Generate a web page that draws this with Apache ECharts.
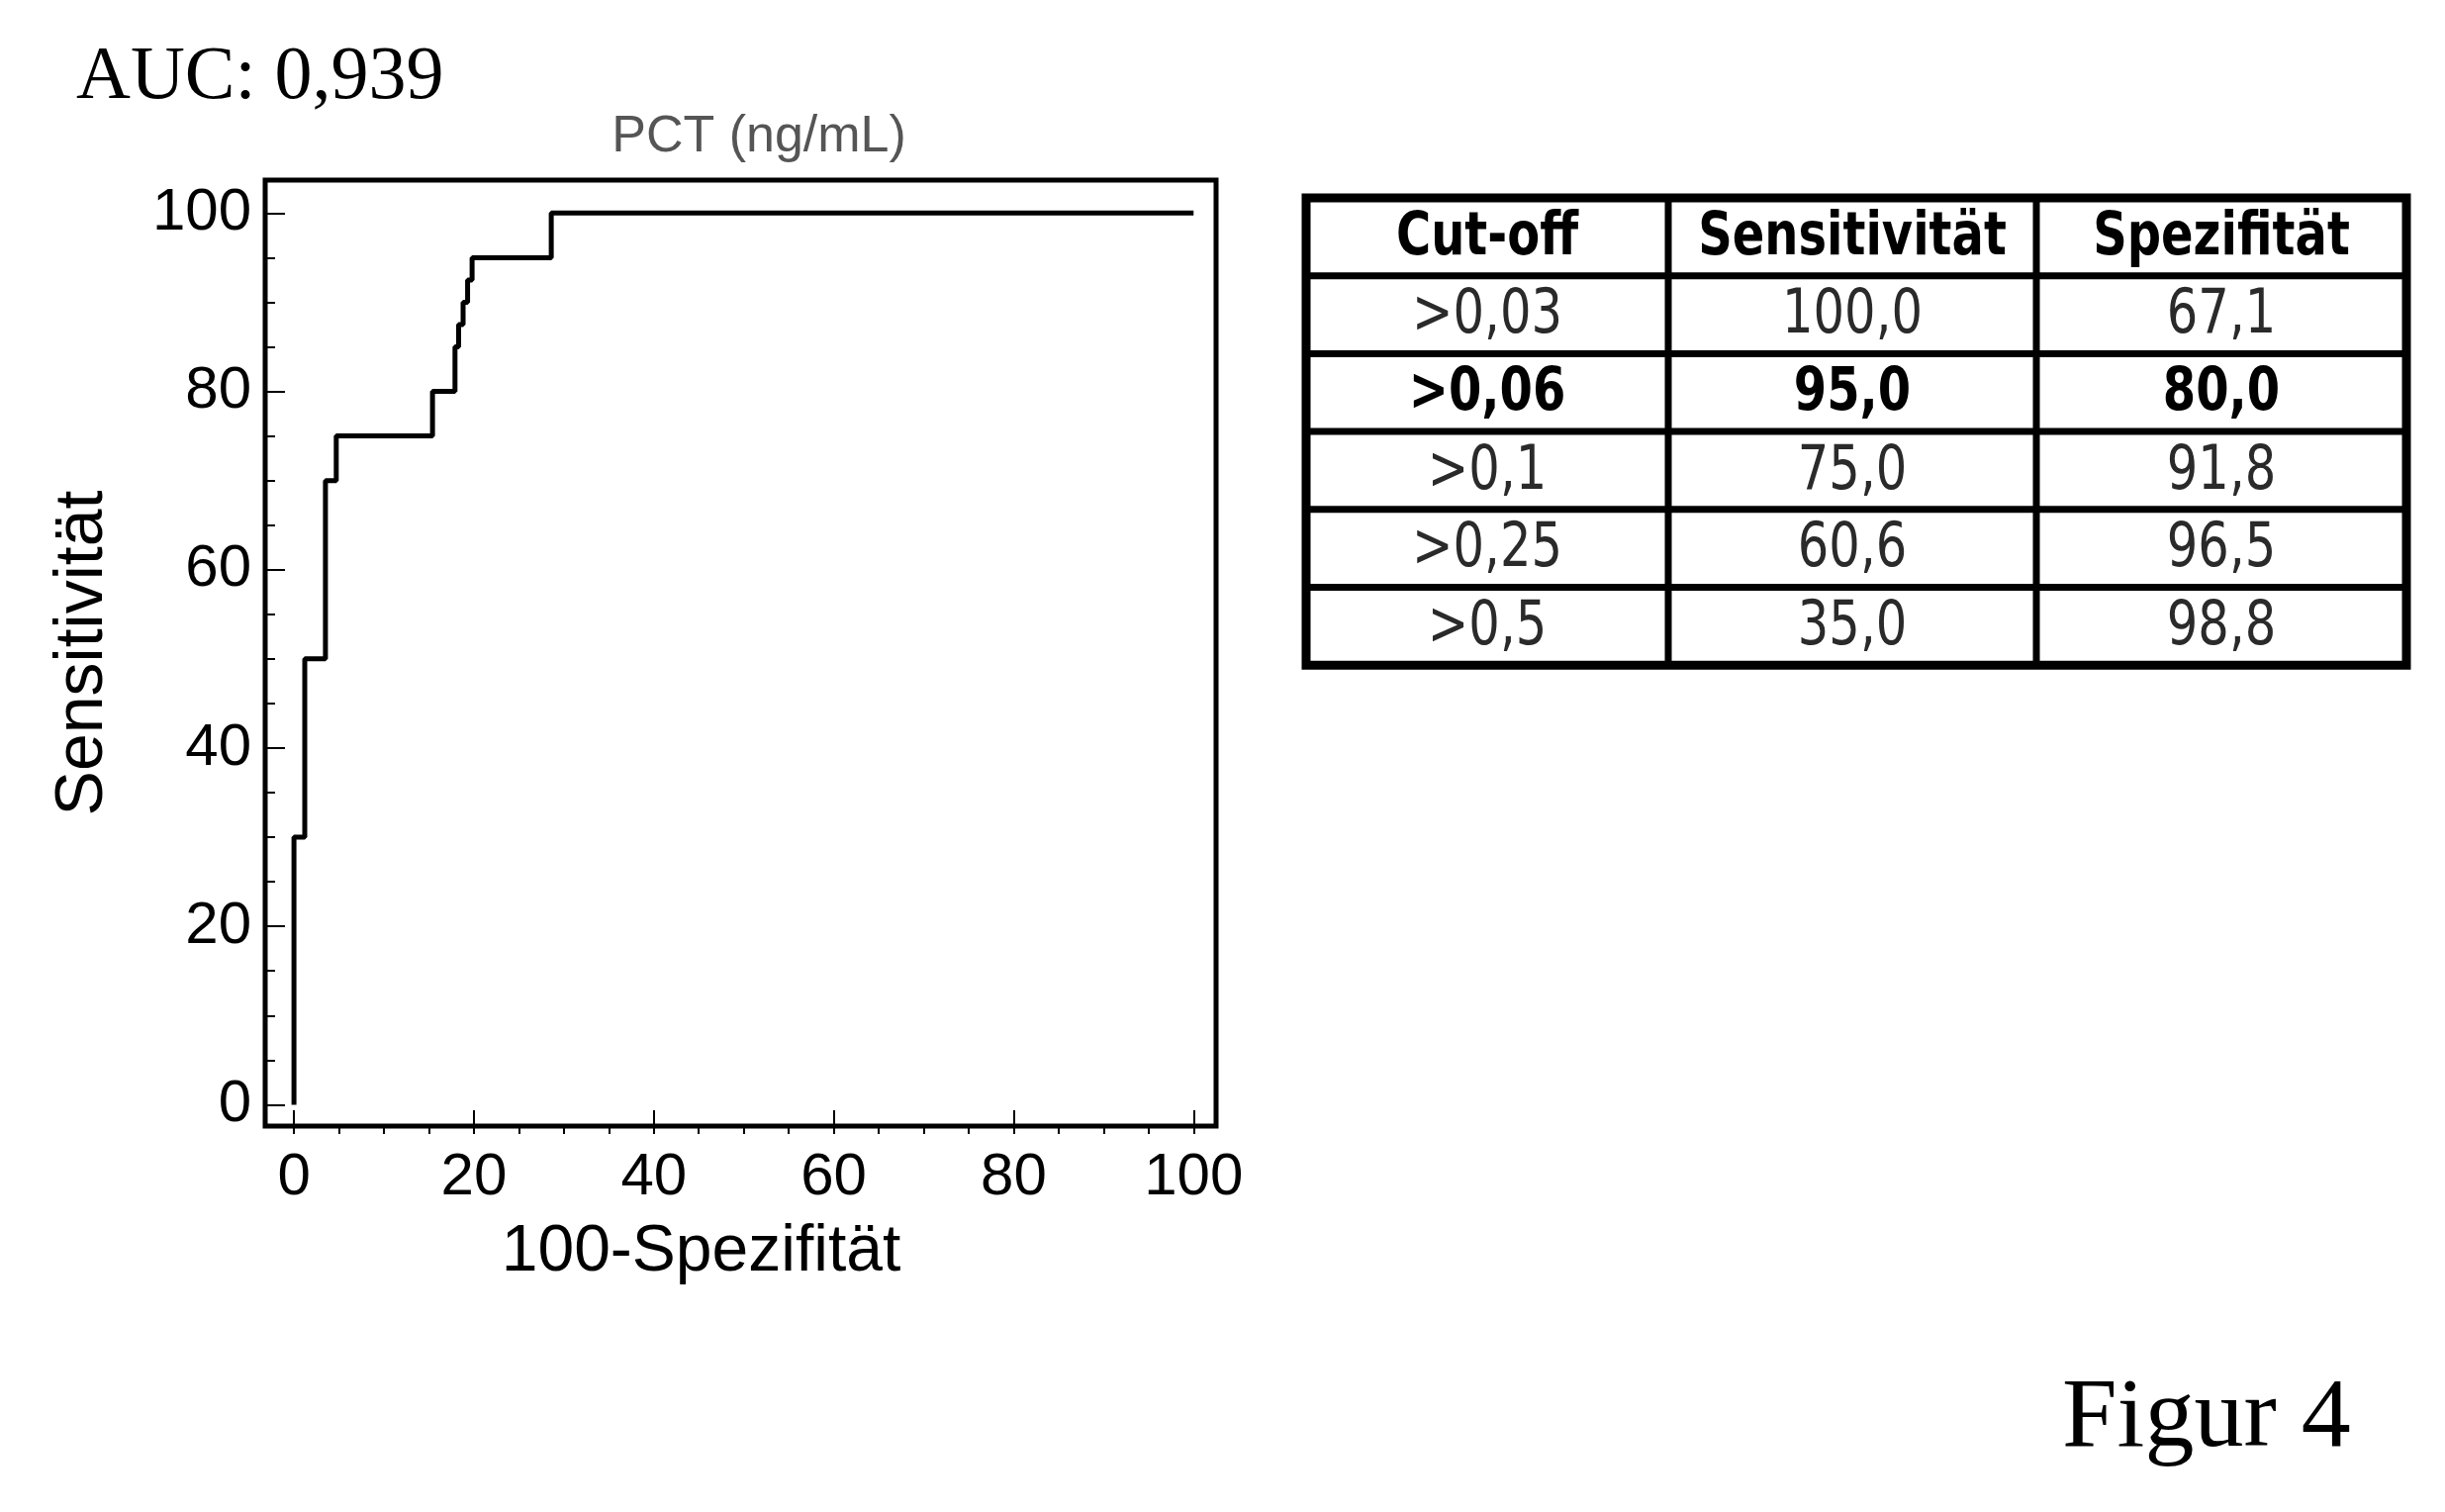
<!DOCTYPE html>
<html>
<head>
<meta charset="utf-8">
<title>ROC PCT</title>
<script src="https://cdn.jsdelivr.net/npm/echarts@6/dist/echarts.min.js"></script>
<style>body{margin:0;background:#fff}</style>
</head>
<body>
<div id="main" style="width:2471px;height:1528px;"></div>
<script type="text/javascript">
    // ROC-Kurve, Eckpunkte der Treppe: x = 100-Spezifitaet, y = Sensitivitaet
    var rocX = [0, 0, 1.2, 1.2, 3.5, 3.5, 4.7, 4.7, 15.4, 15.4, 17.9, 17.9, 18.3, 18.3, 18.8, 18.8, 19.3, 19.3, 19.8, 19.8, 28.6, 28.6, 100];
    var rocY = [0, 30, 30, 50, 50, 70, 70, 75, 75, 80, 80, 85, 85, 87.5, 87.5, 90, 90, 92.5, 92.5, 95, 95, 100, 100];

    var tickLabels = [0, 20, 40, 60, 80, 100];
    var minorTicks = [0, 5, 10, 15, 20, 25, 30, 35, 40, 45, 50, 55, 60, 65, 70, 75, 80, 85, 90, 95, 100];

    // Tabelle
    var tableHeader = ['Cut-off', 'Sensitivität', 'Spezifität'];
    var cutoffs = ['>0,03', '>0,06', '>0,1', '>0,25', '>0,5'];
    var sensitivity = ['100,0', '95,0', '75,0', '60,6', '35,0'];
    var specificity = ['67,1', '80,0', '91,8', '96,5', '98,8'];
    var boldRow = 1;

    var myChart = echarts.init(document.getElementById('main'));

    var rocData = [];
    for (var i = 0; i < rocX.length; i++) {
        rocData.push([rocX[i], rocY[i]]);
    }

    var sans = '"Liberation Sans", Arial, sans-serif';
    var serif = '"Liberation Serif", "Times New Roman", serif';

    // table as graphic elements
    var colEdges = [1320, 1686, 2058, 2432];
    var tTop = 200, rowH = 78.7;
    var nRows = cutoffs.length + 1;
    var tableEls = [];
    tableEls.push({
        type: 'rect',
        shape: { x: colEdges[0], y: tTop, width: colEdges[3] - colEdges[0], height: rowH * nRows },
        style: { fill: '#fff', stroke: '#000', lineWidth: 9 }
    });
    for (var r = 1; r < nRows; r++) {
        tableEls.push({
            type: 'line',
            shape: { x1: colEdges[0], y1: tTop + r * rowH, x2: colEdges[3], y2: tTop + r * rowH },
            style: { stroke: '#000', lineWidth: 7 }
        });
    }
    for (var c = 1; c < 3; c++) {
        tableEls.push({
            type: 'line',
            shape: { x1: colEdges[c], y1: tTop, x2: colEdges[c], y2: tTop + rowH * nRows },
            style: { stroke: '#000', lineWidth: 7 }
        });
    }
    function cellText(txt, col, row, bold) {
        return {
            type: 'text',
            x: (colEdges[col] + colEdges[col + 1]) / 2,
            y: tTop + row * rowH + rowH / 2 + 2,
            scaleX: 0.8,
            style: {
                text: txt,
                x: 0, y: 0,
                align: 'center',
                verticalAlign: 'middle',
                fontFamily: '"DejaVu Sans", Verdana, sans-serif',
                fontSize: bold ? 60 : 62,
                fontWeight: bold ? 'bold' : 'normal',
                fill: bold ? '#000' : '#2a2a2a'
            }
        };
    }
    for (var c2 = 0; c2 < 3; c2++) {
        tableEls.push(cellText(tableHeader[c2], c2, 0, true));
    }
    for (var k = 0; k < cutoffs.length; k++) {
        var b = (k === boldRow);
        tableEls.push(cellText(cutoffs[k], 0, k + 1, b));
        tableEls.push(cellText(sensitivity[k], 1, k + 1, b));
        tableEls.push(cellText(specificity[k], 2, k + 1, b));
    }

    var option = {
        backgroundColor: '#fff',
        animation: false,
        title: [
            { text: 'AUC: 0,939', left: 72, top: 36,
              textStyle: { fontFamily: serif, fontSize: 76, fontWeight: 'normal', color: '#000' } },
            { text: 'PCT (ng/mL)', left: 762, top: 108, textAlign: 'center',
              textStyle: { fontFamily: sans, fontSize: 52, fontWeight: 'normal', color: '#555' } },
            { text: 'Figur 4', left: 2079, top: 1380,
              textStyle: { fontFamily: serif, fontSize: 100, fontWeight: 'normal', color: '#000' } }
        ],
        grid: {
            left: 268, top: 182, width: 961, height: 956,
            show: true, borderColor: '#000', borderWidth: 5,
            backgroundColor: 'transparent'
        },
        xAxis: [{
            type: 'value', min: -3.2, max: 102.5,
            axisLine: { show: false, onZero: false },
            splitLine: { show: false },
            axisTick: { show: true, customValues: minorTicks, length: 8, lineStyle: { color: '#000', width: 2 } },
            axisLabel: { customValues: tickLabels, fontSize: 60, color: '#000', margin: 22, fontFamily: sans },
            name: '100-Spezifität', nameLocation: 'middle', nameGap: 95,
            nameTextStyle: { fontSize: 66, color: '#000', fontFamily: sans, padding: [0, 80, 0, 0] }
        }, {
            type: 'value', min: -3.2, max: 102.5, position: 'bottom',
            axisLine: { show: false, onZero: false },
            splitLine: { show: false },
            axisLabel: { show: false },
            axisTick: { show: true, inside: true, customValues: tickLabels, length: 16, lineStyle: { color: '#000', width: 2 } }
        }],
        yAxis: [{
            type: 'value', min: -2.4, max: 103.7,
            axisLine: { show: false, onZero: false },
            splitLine: { show: false },
            axisTick: { show: true, inside: true, customValues: minorTicks, length: 10, lineStyle: { color: '#000', width: 2 } },
            axisLabel: { customValues: tickLabels, fontSize: 60, color: '#000', margin: 14, fontFamily: sans, padding: [10, 0, 0, 0] },
            name: 'Sensitivität', nameLocation: 'middle', nameGap: 150,
            nameTextStyle: { fontSize: 68, color: '#000', fontFamily: sans }
        }, {
            type: 'value', min: -2.4, max: 103.7, position: 'left',
            axisLine: { show: false, onZero: false },
            splitLine: { show: false },
            axisLabel: { show: false },
            axisTick: { show: true, inside: true, customValues: tickLabels, length: 20, lineStyle: { color: '#000', width: 2 } }
        }],
        series: [{
            type: 'line',
            data: rocData,
            showSymbol: false,
            symbol: 'none',
            lineStyle: { color: '#000', width: 5 }
        }],
        graphic: tableEls
    };

    myChart.setOption(option);
</script>
</body>
</html>
